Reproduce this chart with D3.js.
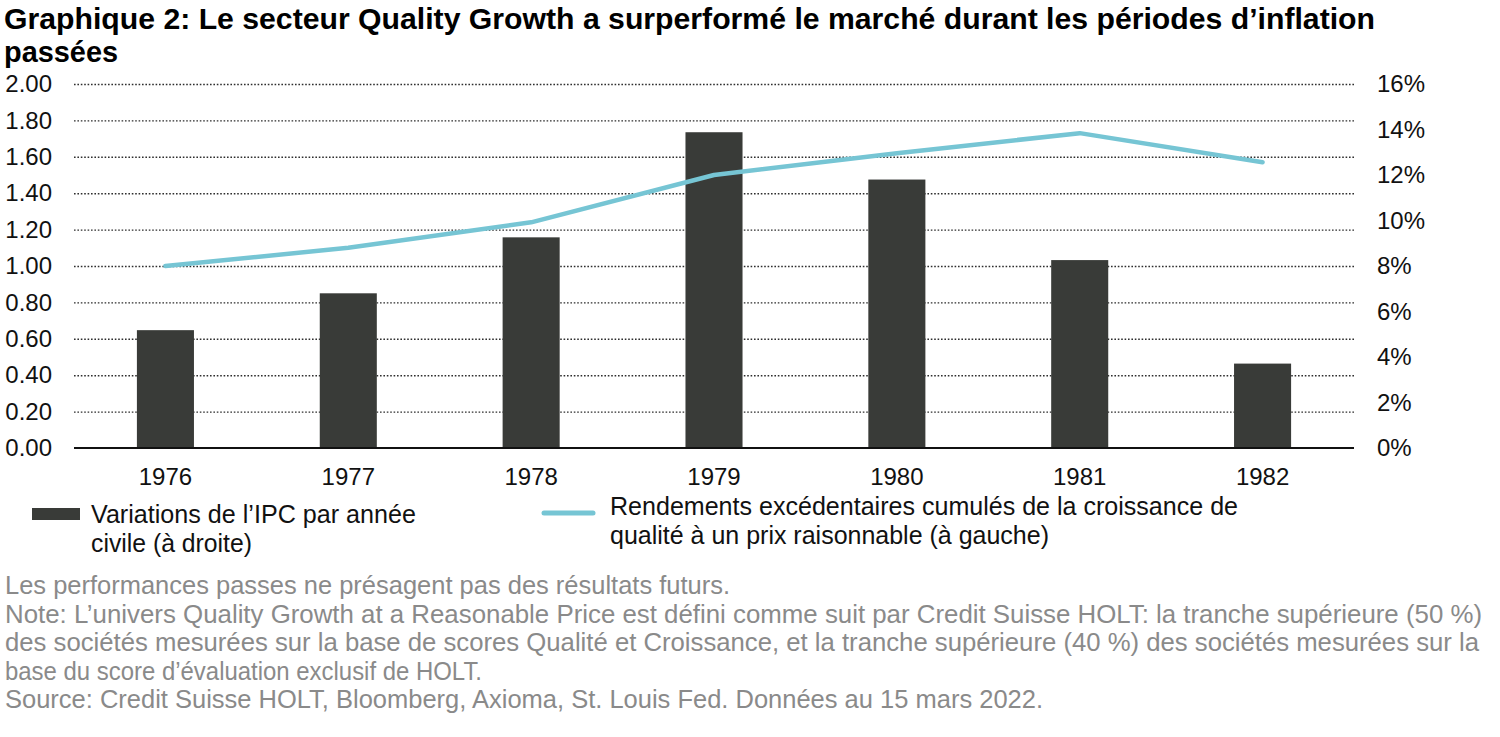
<!DOCTYPE html>
<html>
<head>
<meta charset="utf-8">
<script src="https://cdn.jsdelivr.net/npm/d3@7"></script>
<style>
  body { margin: 0; background: #fff; }
  svg { display: block; font-family: "Liberation Sans", Arial, sans-serif; }
</style>
</head>
<body>
<div id="chart"></div>
<script>
// data
var years = ["1976", "1977", "1978", "1979", "1980", "1981", "1982"];
var cpiChange = [5.18, 6.8, 9.26, 13.88, 11.8, 8.26, 3.71];        // % (right axis)
var excessReturns = [1.00, 1.10, 1.24, 1.50, 1.62, 1.73, 1.57];   // left axis
var leftTicks = [0, 0.2, 0.4, 0.6, 0.8, 1.0, 1.2, 1.4, 1.6, 1.8, 2.0];
var rightTicks = [0, 2, 4, 6, 8, 10, 12, 14, 16];

var titleLines = [
  "Graphique 2: Le secteur Quality Growth a surperformé le marché durant les périodes d\u2019inflation",
  "passées"
];
var legendBar = ["Variations de l\u2019IPC par année", "civile (à droite)"];
var legendLine = ["Rendements excédentaires cumulés de la croissance de", "qualité à un prix raisonnable (à gauche)"];
var notes = [
  "Les performances passes ne présagent pas des résultats futurs.",
  "Note: L\u2019univers Quality Growth at a Reasonable Price est défini comme suit par Credit Suisse HOLT: la tranche supérieure (50 %)",
  "des sociétés mesurées sur la base de scores Qualité et Croissance, et la tranche supérieure (40 %) des sociétés mesurées sur la",
  "base du score d\u2019évaluation exclusif de HOLT.",
  "Source: Credit Suisse HOLT, Bloomberg, Axioma, St. Louis Fed. Données au 15 mars 2022."
];

var W = 1500, H = 737;
var plot = {left: 74, right: 1354, top: 84, bottom: 448};
var barColor = "#393b38", lineColor = "#76c5d4";

var svg = d3.select("#chart").append("svg")
    .attr("width", W)
    .attr("height", H);

var x = d3.scaleBand().domain(years)
    .range([plot.left, plot.right])
    .paddingInner(0.688).paddingOuter(0.344);
var yL = d3.scaleLinear().domain([0, 2]).range([plot.bottom, plot.top]);
var yR = d3.scaleLinear().domain([0, 16]).range([plot.bottom, plot.top]);

// squeeze/stretch a text line to the width measured on the picture
function fit(sel, w) {
  if (w) sel.attr("textLength", w).attr("lengthAdjust", "spacingAndGlyphs");
}

// title
var titleW = [1371, 114];
titleLines.forEach(function(t, i) {
  svg.append("text")
    .attr("x", 4).attr("y", 29 + i * 33)
    .attr("font-size", 30).attr("font-weight", "bold")
    .attr("fill", "#000")
    .text(t)
    .call(fit, titleW[i]);
});

// dotted grid
svg.append("g")
    .attr("transform", "translate(" + plot.left + ",0)")
    .call(d3.axisLeft(yL).tickValues(leftTicks.slice(1)).tickSize(-(plot.right - plot.left)).tickFormat(""))
    .call(function(g) { g.select(".domain").remove(); })
    .selectAll("line")
    .attr("stroke", "#2e2e2e")
    .attr("stroke-width", 1.4)
    .attr("stroke-dasharray", "1.6,1.8");

// bars
svg.append("g").selectAll("rect")
    .data(years)
  .enter().append("rect")
    .attr("x", function(d) { return x(d); })
    .attr("width", x.bandwidth())
    .attr("y", function(d, i) { return yR(cpiChange[i]); })
    .attr("height", function(d, i) { return yR(0) - yR(cpiChange[i]); })
    .attr("fill", barColor);

// baseline
svg.append("line")
    .attr("x1", plot.left).attr("x2", plot.right)
    .attr("y1", yL(0)).attr("y2", yL(0))
    .attr("stroke", "#111").attr("stroke-width", 2);

// line
var line = d3.line()
    .x(function(d, i) { return x(years[i]) + x.bandwidth() / 2; })
    .y(function(d) { return yL(d); });
svg.append("path")
    .datum(excessReturns)
    .attr("d", line)
    .attr("fill", "none")
    .attr("stroke", lineColor)
    .attr("stroke-width", 4.5)
    .attr("stroke-linejoin", "round")
    .attr("stroke-linecap", "round");

// axes labels
var axL = svg.append("g")
    .attr("transform", "translate(52,0)")
    .call(d3.axisLeft(yL).tickValues(leftTicks).tickSize(0).tickPadding(0).tickFormat(d3.format(".2f")));
var axR = svg.append("g")
    .attr("transform", "translate(1377,0)")
    .call(d3.axisRight(yR).tickValues(rightTicks).tickSize(0).tickPadding(0).tickFormat(function(d) { return d + "%"; }));
var axX = svg.append("g")
    .attr("transform", "translate(0,485)")
    .call(d3.axisBottom(x).tickSize(0).tickPadding(0));
[axL, axR, axX].forEach(function(g) {
  g.select(".domain").remove();
  g.selectAll("text")
    .attr("font-family", "Liberation Sans, Arial, sans-serif")
    .attr("font-size", 24)
    .attr("fill", "#111");
});
axX.selectAll("text").attr("dy", 0);

// legend
svg.append("rect")
    .attr("x", 32).attr("y", 508).attr("width", 48).attr("height", 12)
    .attr("fill", barColor);
var lbW = [325, 161];
legendBar.forEach(function(t, i) {
  svg.append("text")
    .attr("x", 91).attr("y", 523 + i * 29)
    .attr("font-size", 25).attr("fill", "#111")
    .text(t).call(fit, lbW[i]);
});
svg.append("line")
    .attr("x1", 544).attr("x2", 593).attr("y1", 513).attr("y2", 513)
    .attr("stroke", lineColor).attr("stroke-width", 5).attr("stroke-linecap", "round");
var llW = [628, 439];
legendLine.forEach(function(t, i) {
  svg.append("text")
    .attr("x", 610).attr("y", 515 + i * 29)
    .attr("font-size", 25).attr("fill", "#111")
    .text(t).call(fit, llW[i]);
});

// notes
var noteW = [725, 1477, 1474, 477, 1038];
notes.forEach(function(t, i) {
  svg.append("text")
    .attr("x", 5).attr("y", 594 + i * 28.5)
    .attr("font-size", 25).attr("fill", "#8a8a8a")
    .text(t).call(fit, noteW[i]);
});
</script>
</body>
</html>
